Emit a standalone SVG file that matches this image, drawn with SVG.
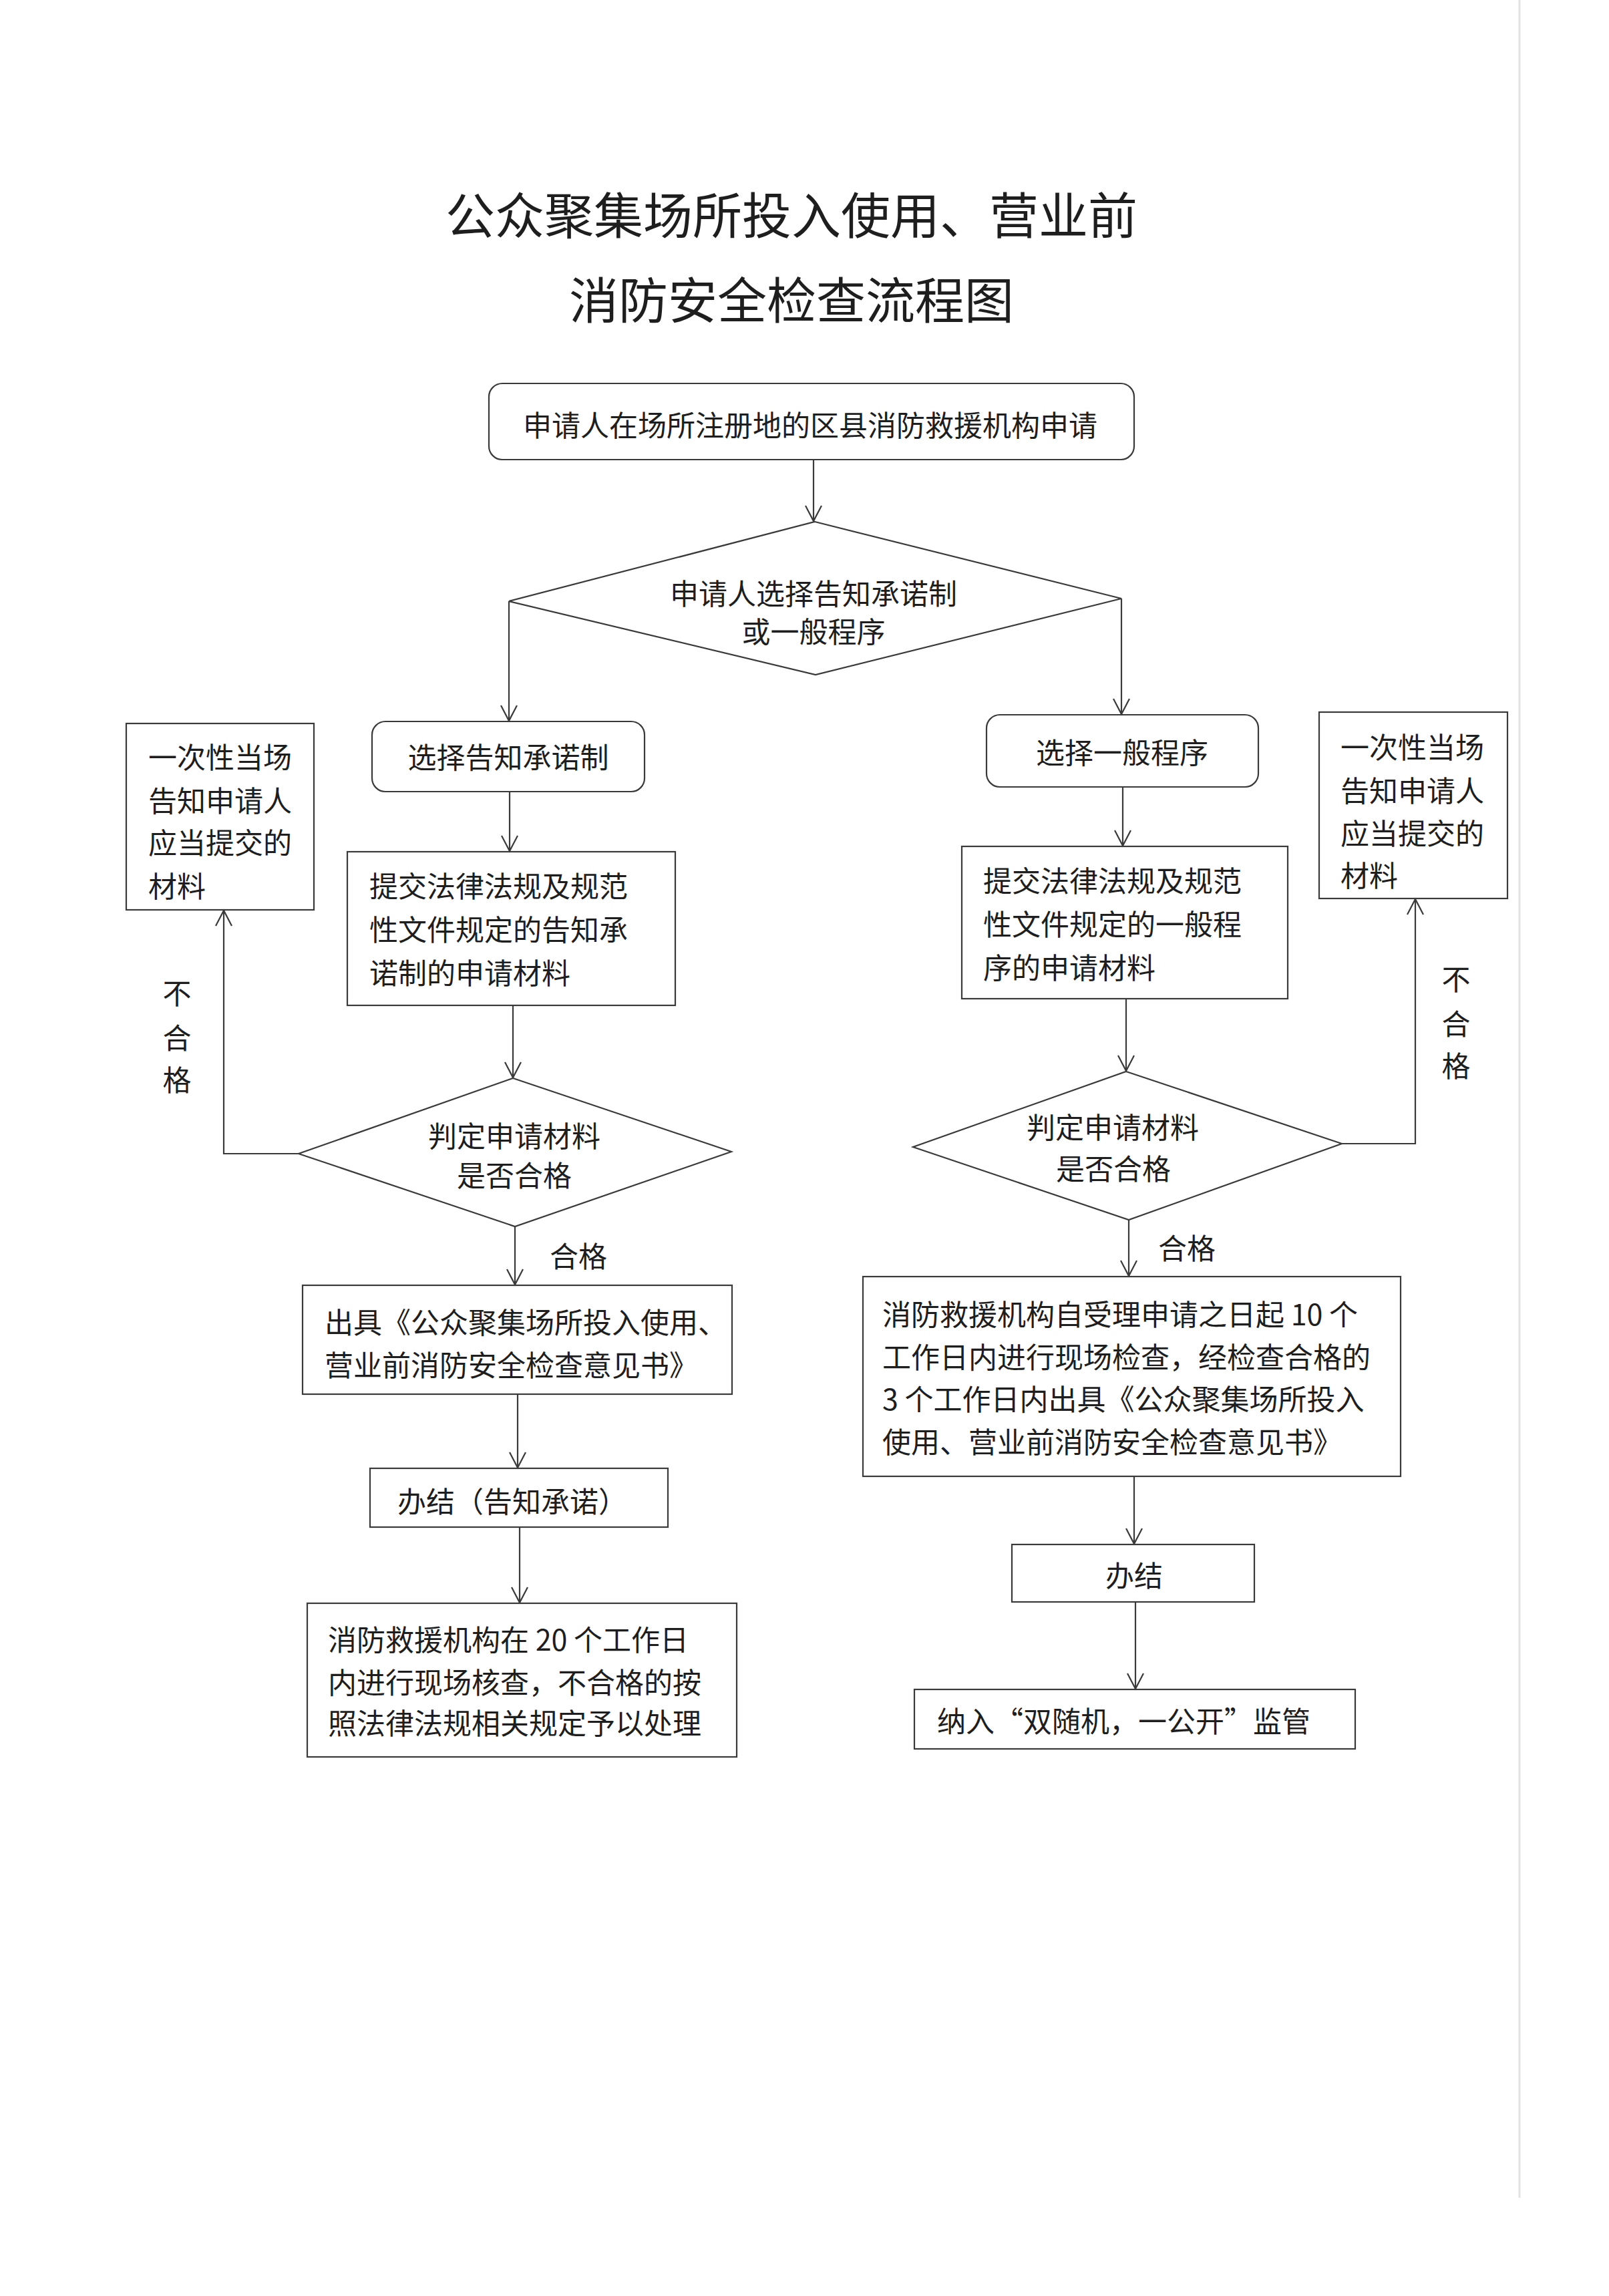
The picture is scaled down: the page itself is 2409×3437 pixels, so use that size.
<svg xmlns="http://www.w3.org/2000/svg" width="2409" height="3437" viewBox="0 0 2409 3437">
<style>
.bg{fill:#ffffff}
.box{fill:none;stroke:#3a3a3a;stroke-width:2.2}
.ln{fill:none;stroke:#3a3a3a;stroke-width:2.2}
.t{font-family:"Noto Sans CJK SC","Noto Sans CJK JP",sans-serif;font-size:43px;fill:#1e1e1e;dominant-baseline:central}
.c{text-anchor:middle}
.title{font-family:"Noto Sans CJK SC","Noto Sans CJK JP",sans-serif;font-size:74px;fill:#1e1e1e;text-anchor:middle;dominant-baseline:central}
</style>
<defs>
<marker id="arr" markerUnits="userSpaceOnUse" viewBox="-26 -15 28 30" markerWidth="28" markerHeight="30" refX="0" refY="0" orient="auto" overflow="visible">
<path d="M-23,-12 L0,0 L-23,12" fill="none" stroke="#3a3a3a" stroke-width="2.2"/>
</marker>
</defs>
<rect class="bg" x="0" y="0" width="2409" height="3437"/>
<line x1="2275" y1="0" x2="2275" y2="3290" stroke="#e2e2e2" stroke-width="3"/>

<g id="title">
<text class="title" x="1185" y="317">公众聚集场所投入使用、营业前</text>
<text class="title" x="1185" y="444">消防安全检查流程图</text>
</g>

<g id="connectors">
<line class="ln" x1="1218" y1="688" x2="1218" y2="780" marker-end="url(#arr)"/>
<polyline class="ln" points="762,900 762,1079" marker-end="url(#arr)"/>
<polyline class="ln" points="1679,896 1679,1069" marker-end="url(#arr)"/>
<line class="ln" x1="763" y1="1185" x2="763" y2="1274" marker-end="url(#arr)"/>
<line class="ln" x1="768" y1="1505" x2="768" y2="1613" marker-end="url(#arr)"/>
<polyline class="ln" points="447,1727 335,1727 335,1363" marker-end="url(#arr)"/>
<line class="ln" x1="771" y1="1836" x2="771" y2="1923" marker-end="url(#arr)"/>
<line class="ln" x1="775" y1="2087" x2="775" y2="2197" marker-end="url(#arr)"/>
<line class="ln" x1="778" y1="2286" x2="778" y2="2399" marker-end="url(#arr)"/>
<line class="ln" x1="1681" y1="1178" x2="1681" y2="1266" marker-end="url(#arr)"/>
<line class="ln" x1="1686" y1="1495" x2="1686" y2="1603" marker-end="url(#arr)"/>
<polyline class="ln" points="2009,1712 2119,1712 2119,1346" marker-end="url(#arr)"/>
<line class="ln" x1="1690" y1="1826" x2="1690" y2="1910" marker-end="url(#arr)"/>
<line class="ln" x1="1698" y1="2210" x2="1698" y2="2311" marker-end="url(#arr)"/>
<line class="ln" x1="1700" y1="2398" x2="1700" y2="2528" marker-end="url(#arr)"/>
<text class="t" x="265" y="1484" text-anchor="middle">不</text>
<text class="t" x="265" y="1551" text-anchor="middle">合</text>
<text class="t" x="265" y="1614" text-anchor="middle">格</text>
<text class="t" x="823" y="1878">合格</text>
<text class="t" x="2180" y="1463" text-anchor="middle">不</text>
<text class="t" x="2180" y="1530" text-anchor="middle">合</text>
<text class="t" x="2180" y="1593" text-anchor="middle">格</text>
<text class="t" x="1734" y="1866">合格</text>
</g>

<g id="n_apply">
<rect class="box" x="732" y="574" width="966" height="114" rx="20"/>
<text class="t c" x="1213" y="634">申请人在场所注册地的区县消防救援机构申请</text>
</g>

<g id="n_choose">
<polygon class="box" points="1220,781 1679,896 1221,1010 762,900"/>
<text class="t c" x="1218" y="886">申请人选择告知承诺制</text>
<text class="t c" x="1218" y="943">或一般程序</text>
</g>

<g id="n_left_choose">
<rect class="box" x="557" y="1080" width="408" height="105" rx="20"/>
<text class="t c" x="761" y="1131">选择告知承诺制</text>
</g>

<g id="n_right_choose">
<rect class="box" x="1477" y="1070" width="407" height="108" rx="20"/>
<text class="t c" x="1680" y="1124">选择一般程序</text>
</g>

<g id="n_left_submit">
<rect class="box" x="520" y="1275" width="491" height="230"/>
<text class="t" x="553" y="1324">提交法律法规及规范</text>
<text class="t" x="553" y="1389">性文件规定的告知承</text>
<text class="t" x="553" y="1454">诺制的申请材料</text>
</g>

<g id="n_right_submit">
<rect class="box" x="1440" y="1267" width="488" height="228"/>
<text class="t" x="1472" y="1316">提交法律法规及规范</text>
<text class="t" x="1472" y="1381">性文件规定的一般程</text>
<text class="t" x="1472" y="1446">序的申请材料</text>
</g>

<g id="n_left_judge">
<polygon class="box" points="768,1614 1095,1724 771,1836 447,1727"/>
<text class="t c" x="770" y="1698">判定申请材料</text>
<text class="t c" x="770" y="1757">是否合格</text>
</g>

<g id="n_right_judge">
<polygon class="box" points="1686,1604 2009,1712 1690,1826 1367,1717"/>
<text class="t c" x="1666" y="1685">判定申请材料</text>
<text class="t c" x="1667" y="1747">是否合格</text>
</g>

<g id="n_left_notify">
<rect class="box" x="189" y="1083" width="281" height="279"/>
<text class="t" x="222" y="1131">一次性当场</text>
<text class="t" x="222" y="1196">告知申请人</text>
<text class="t" x="222" y="1259">应当提交的</text>
<text class="t" x="222" y="1324">材料</text>
</g>

<g id="n_right_notify">
<rect class="box" x="1975" y="1066" width="282" height="279"/>
<text class="t" x="2007" y="1116">一次性当场</text>
<text class="t" x="2007" y="1181">告知申请人</text>
<text class="t" x="2007" y="1245">应当提交的</text>
<text class="t" x="2007" y="1308">材料</text>
</g>

<g id="n_left_issue">
<rect class="box" x="453" y="1924" width="643" height="163"/>
<text class="t" x="486" y="1977">出具《公众聚集场所投入使用、</text>
<text class="t" x="486" y="2041">营业前消防安全检查意见书》</text>
</g>

<g id="n_left_done">
<rect class="box" x="554" y="2198" width="446" height="88"/>
<text class="t c" x="767" y="2245">办结（告知承诺）</text>
</g>

<g id="n_left_check">
<rect class="box" x="460" y="2400" width="643" height="230"/>
<text class="t" x="491" y="2452">消防救援机构在 20 个工作日</text>
<text class="t" x="491" y="2516">内进行现场核查，不合格的按</text>
<text class="t" x="491" y="2577">照法律法规相关规定予以处理</text>
</g>

<g id="n_right_check">
<rect class="box" x="1292" y="1911" width="805" height="299"/>
<text class="t" x="1321" y="1965">消防救援机构自受理申请之日起 10 个</text>
<text class="t" x="1321" y="2029">工作日内进行现场检查，经检查合格的</text>
<text class="t" x="1321" y="2092">3 个工作日内出具《公众聚集场所投入</text>
<text class="t" x="1321" y="2156">使用、营业前消防安全检查意见书》</text>
</g>

<g id="n_right_done">
<rect class="box" x="1515" y="2312" width="363" height="86"/>
<text class="t c" x="1698" y="2356">办结</text>
</g>

<g id="n_right_supervise">
<rect class="box" x="1369" y="2529" width="660" height="89"/>
<text class="t" x="1403" y="2574">纳入“双随机，一公开”监管</text>
</g>
</svg>
